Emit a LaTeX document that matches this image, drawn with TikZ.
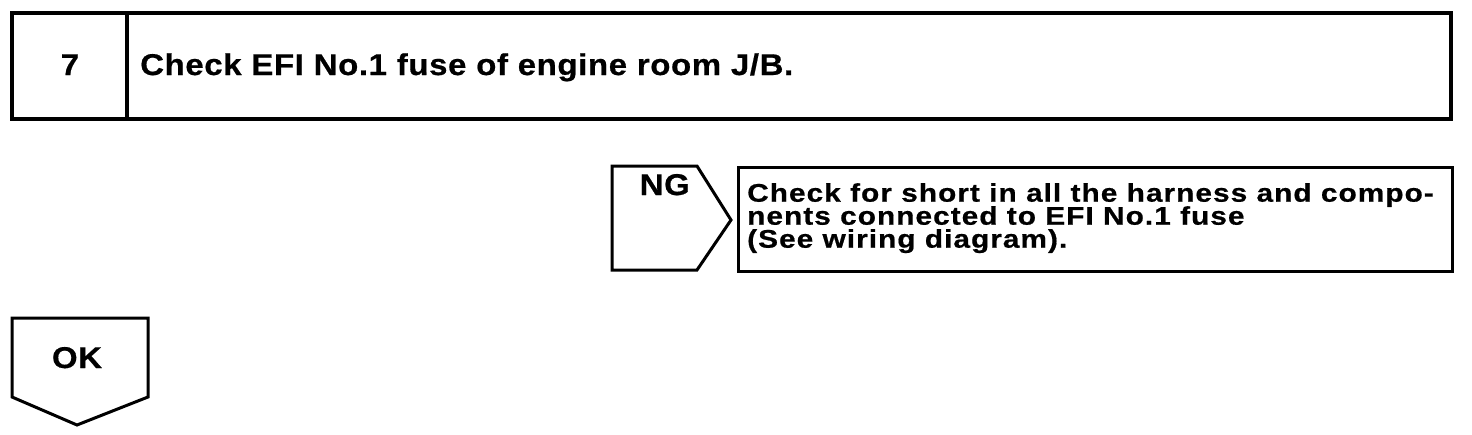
\documentclass[tikz,border=0pt]{standalone}
\usepackage{fontspec}
\setmainfont{Liberation Sans}
\newfontfamily\widefont[FakeStretch=1.1,LetterSpace=2,FakeBold=0.6]{Liberation Sans Bold}
\newfontfamily\boxfont[FakeStretch=1.17,LetterSpace=4,FakeBold=0.6]{Liberation Sans Bold}
\newcommand\tightlines{\lineskiplimit=-100pt\relax}
\begin{document}
\begin{tikzpicture}[x=1pt,y=-1pt,
  frame/.style={line width=3.5pt,line join=miter},
  thin frame/.style={line width=3pt,line join=miter},
  lbl/.style={inner sep=0pt,font=\widefont\fontsize{30}{30}\selectfont}]
\useasboundingbox (0,0) rectangle (1472,434);
% top step box
\coordinate (tl) at (12,13);
\coordinate (tr) at (1451,13);
\coordinate (br) at (1451,119);
\coordinate (bl) at (12,119);
\coordinate (dt) at (127,13);
\coordinate (db) at (127,119);
\draw[frame] (tl) -- (tr) -- (br) -- (bl) -- cycle;
\draw[frame] (dt) -- (db);
\node[lbl,anchor=base] (num) at (70,75) {7};
\node[lbl,anchor=base west] (title) at (140,75) {Check EFI No.1 fuse of engine room J/B.};
% NG arrow
\coordinate (n1) at (612,166);
\coordinate (n2) at (697,166);
\coordinate (n3) at (731,220);
\coordinate (n4) at (697,270);
\coordinate (n5) at (612,270);
\draw[thin frame] (n1) -- (n2) -- (n3) -- (n4) -- (n5) -- cycle;
\node[lbl,anchor=base east] (ng) at (690,195) {NG};
% NG result box
\coordinate (r1) at (738,167);
\coordinate (r2) at (1452,167);
\coordinate (r3) at (1452,271);
\coordinate (r4) at (738,271);
\draw[thin frame] (r1) -- (r2) -- (r3) -- (r4) -- cycle;
\node[inner sep=0pt,anchor=north west,align=left,font=\boxfont\fontsize{25.5}{23}\selectfont\tightlines] (res) at (747,183)
  {Check for short in all the harness and compo-\\nents connected to EFI No.1 fuse\\(See wiring diagram).};
% OK arrow
\coordinate (o1) at (12,318);
\coordinate (o2) at (148,318);
\coordinate (o3) at (148,397);
\coordinate (o4) at (77,425);
\coordinate (o5) at (12,397);
\draw[thin frame] (o1) -- (o2) -- (o3) -- (o4) -- (o5) -- cycle;
\node[lbl,anchor=base] (ok) at (77,368) {OK};
\end{tikzpicture}
\end{document}
